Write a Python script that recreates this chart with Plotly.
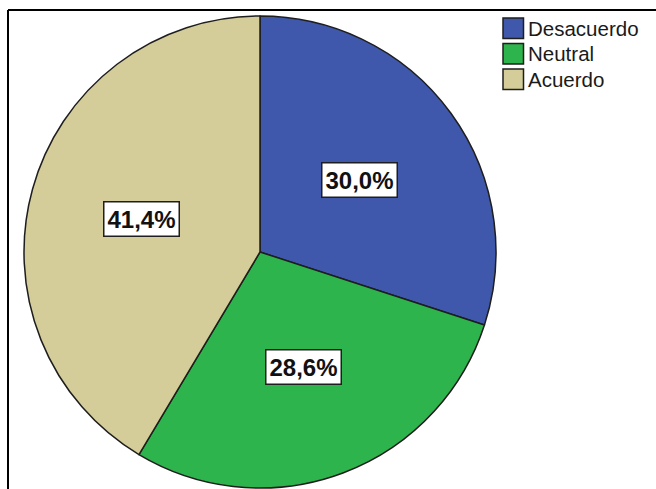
import math
import plotly.graph_objects as go

# Survey responses (counts) and their colours
categories = ["Desacuerdo", "Neutral", "Acuerdo"]
counts = [21, 20, 29]
colors = ["#3F58AB", "#2EB44C", "#D4CD99"]

W, H = 656, 489
CX, CY, R = 260, 252, 236          # pie centre and radius in pixels
LABEL_R = 0.52 * R                 # distance of the percentage boxes from the centre


def px_x(x):
    return x / W


def px_y(y):
    return 1 - y / H


fig = go.Figure(
    go.Pie(
        labels=categories,
        values=counts,
        marker=dict(colors=colors, line=dict(color="#1e1e1e", width=1.5)),
        sort=False,
        direction="clockwise",
        rotation=0,
        textinfo="none",
        hoverinfo="label+percent",
        domain=dict(x=[px_x(CX - R), px_x(CX + R)], y=[px_y(CY + R), px_y(CY - R)]),
        showlegend=False,
    )
)

# Percentage labels in white boxes, placed at each slice's mid-angle
total = sum(counts)
annotations = []
cum = 0
for v in counts:
    ang = 2 * math.pi * (cum + v / 2) / total
    cum += v
    x = CX + LABEL_R * math.sin(ang)
    y = CY - LABEL_R * math.cos(ang)
    pct = f"{100 * v / total:.1f}".replace(".", ",") + "%"
    annotations.append(dict(
        x=px_x(x), y=px_y(y), xref="paper", yref="paper",
        text=f"<b>{pct}</b>", showarrow=False,
        font=dict(family="Liberation Sans, Arial", size=24, color="#111111"),
        bgcolor="white", bordercolor="#1e1e1e", borderwidth=1.5, borderpad=3,
        xanchor="center", yanchor="middle",
    ))

# Legend: bordered colour swatches with category names
shapes = []
SW_X0, SW_Y0, SW, STEP = 503, 18, 20.5, 25.5
for i, (name, col) in enumerate(zip(categories, colors)):
    top = SW_Y0 + i * STEP
    shapes.append(dict(
        type="rect", xref="paper", yref="paper",
        x0=px_x(SW_X0), x1=px_x(SW_X0 + SW), y0=px_y(top + SW), y1=px_y(top),
        fillcolor=col, line=dict(color="#1e1e1e", width=1.5),
    ))
    annotations.append(dict(
        x=px_x(SW_X0 + SW + 2), y=px_y(top + SW / 2), xref="paper", yref="paper",
        text=name, showarrow=False, xanchor="left", yanchor="middle",
        font=dict(family="Liberation Sans, Arial", size=20.5, color="#1a1a1a"),
    ))

# Chart frame (left and top edges visible)
shapes.append(dict(type="line", xref="paper", yref="paper",
                   x0=px_x(8), x1=px_x(8), y0=px_y(H + 5), y1=px_y(10),
                   line=dict(color="black", width=2)))
shapes.append(dict(type="line", xref="paper", yref="paper",
                   x0=px_x(8), x1=px_x(W + 5), y0=px_y(10), y1=px_y(10),
                   line=dict(color="black", width=2)))

fig.update_layout(
    width=W, height=H,
    margin=dict(l=0, r=0, t=0, b=0),
    paper_bgcolor="white", plot_bgcolor="white",
    annotations=annotations, shapes=shapes,
)

fig.write_html("out.html")
